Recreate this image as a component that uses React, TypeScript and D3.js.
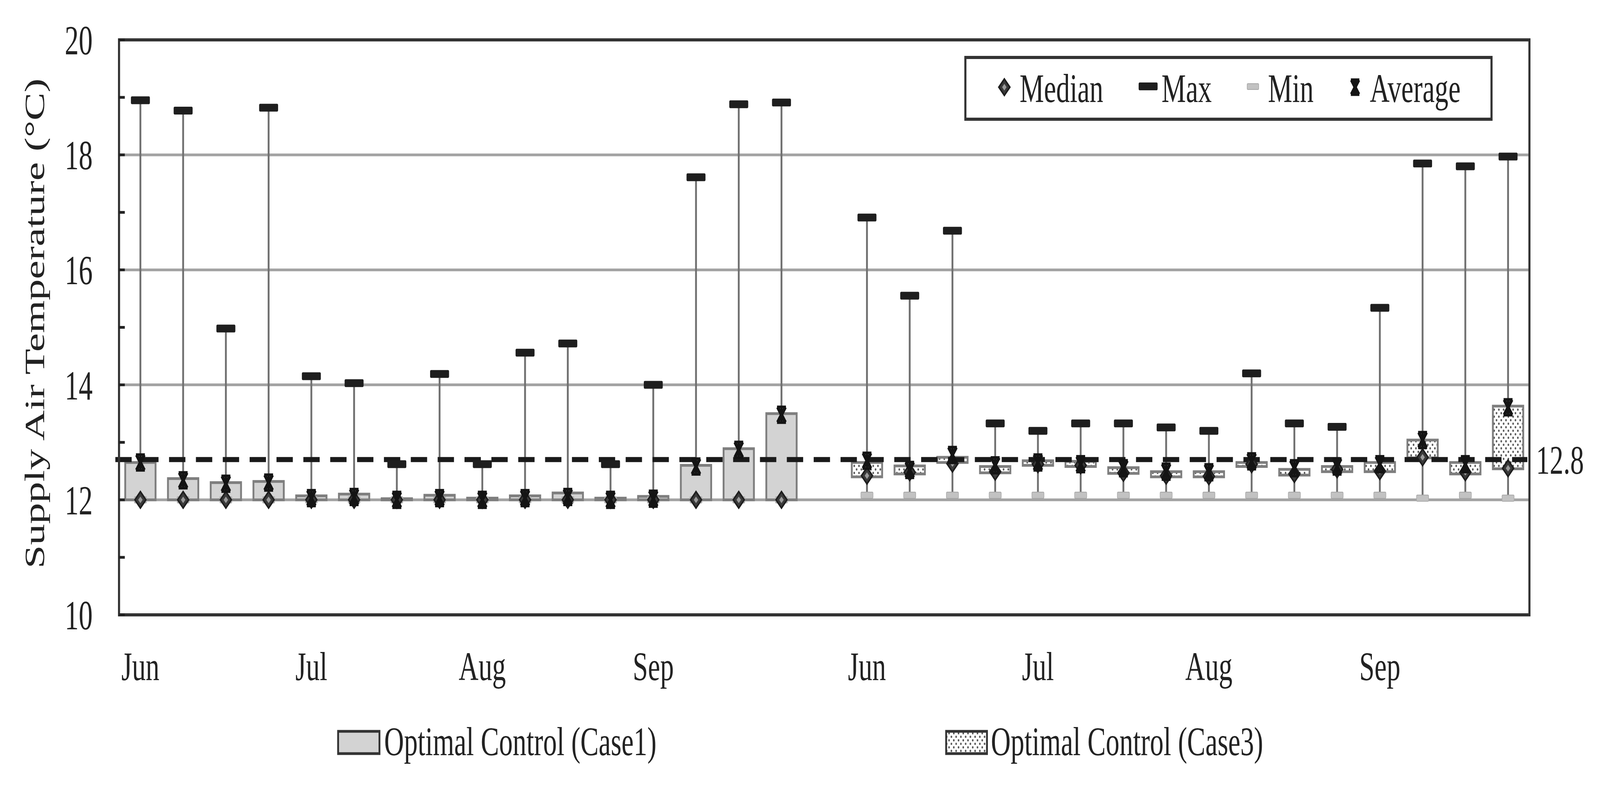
import React from 'react';
import * as d3 from 'd3';

// weekly supply air temperature stats, 4 weeks per month, Jun..Sep
const months = ['Jun', 'Jul', 'Aug', 'Sep'];
const weeksPerMonth = 4;

const case1Max = [18.95, 18.77, 14.98, 18.82, 14.15, 14.03, 12.62, 14.19, 12.62, 14.56, 14.72, 12.62, 14.0, 17.61, 18.88, 18.91];
const case1Avg = [12.65, 12.34, 12.28, 12.3, 12.03, 12.05, 12.0, 12.03, 12.0, 12.03, 12.05, 12.0, 12.02, 12.58, 12.87, 13.48];
const case1Median = [12.0, 12.0, 12.0, 12.0, 12.0, 12.0, 12.0, 12.0, 12.0, 12.0, 12.0, 12.0, 12.0, 12.0, 12.0, 12.0];
const case1Min = [12.0, 12.0, 12.0, 12.0, 12.0, 12.0, 12.0, 12.0, 12.0, 12.0, 12.0, 12.0, 12.0, 12.0, 12.0, 12.0];
const case1BoxLow = [12.0, 12.0, 12.0, 12.0, 12.0, 12.0, 12.0, 12.0, 12.0, 12.0, 12.0, 12.0, 12.0, 12.0, 12.0, 12.0];
const case1BoxHigh = [12.65, 12.37, 12.3, 12.32, 12.07, 12.1, 12.02, 12.08, 12.03, 12.07, 12.12, 12.03, 12.06, 12.6, 12.89, 13.5];

const case3Max = [16.91, 15.55, 16.68, 13.33, 13.2, 13.33, 13.33, 13.26, 13.2, 14.2, 13.33, 13.27, 15.34, 17.85, 17.8, 17.97];
const case3Avg = [12.68, 12.52, 12.78, 12.6, 12.65, 12.62, 12.55, 12.49, 12.48, 12.67, 12.55, 12.58, 12.62, 13.04, 12.62, 13.61];
const case3Median = [12.42, 12.48, 12.63, 12.49, 12.62, 12.6, 12.47, 12.42, 12.41, 12.62, 12.45, 12.53, 12.5, 12.74, 12.48, 12.55];
const case3Min = [12.08, 12.08, 12.08, 12.08, 12.08, 12.08, 12.08, 12.08, 12.08, 12.08, 12.08, 12.08, 12.08, 12.03, 12.08, 12.03];
const case3BoxLow = [12.4, 12.45, 12.65, 12.47, 12.6, 12.58, 12.46, 12.4, 12.4, 12.58, 12.43, 12.49, 12.49, 12.73, 12.45, 12.54];
const case3BoxHigh = [12.65, 12.59, 12.74, 12.58, 12.68, 12.67, 12.56, 12.49, 12.49, 12.65, 12.53, 12.58, 12.65, 13.04, 12.65, 13.63];

const setpoint = 12.7;
const setpointLabel = '12.8';
const yMajor = [10, 12, 14, 16, 18, 20];
const yGrid = [12, 14, 16, 18];

const FONT = "'Liberation Serif', 'Times New Roman', serif";

// excel-ish star marker: bold X with bars top and bottom
const Star = ({x, y, s = 20}: {x: number; y: number; s?: number}) => (
  <g transform={`translate(${x},${y})`} stroke="#141414" fill="none">
    <line x1={-s * 0.75} y1={-s} x2={s * 0.75} y2={s} strokeWidth={11} />
    <line x1={s * 0.75} y1={-s} x2={-s * 0.75} y2={s} strokeWidth={11} />
    <line x1={-s * 0.85} y1={-s} x2={s * 0.85} y2={-s} strokeWidth={7} />
    <line x1={-s * 0.85} y1={s} x2={s * 0.85} y2={s} strokeWidth={7} />
    <line x1={0} y1={-s} x2={0} y2={s} strokeWidth={9} />
  </g>
);

const Diamond = ({x, y, s = 21}: {x: number; y: number; s?: number}) => (
  <g>
    <path d={`M${x},${y - s}L${x + s},${y}L${x},${y + s}L${x - s},${y}Z`} fill="#3a3a3a" stroke="#1e1e1e" strokeWidth={5} />
    <path d={`M${x},${y - s * 0.4}L${x + s * 0.4},${y}L${x},${y + s * 0.4}L${x - s * 0.4},${y}Z`} fill="#9a9a9a" />
  </g>
);

const MaxMark = ({x, y}: {x: number; y: number}) => (
  <rect x={x - 36} y={y - 10} width={72} height={20} rx={4} fill="#1e1e1e" />
);

const MinMark = ({x, y}: {x: number; y: number}) => (
  <rect x={x - 23} y={y - 8} width={46} height={16} rx={3} fill="#c2c2c2" stroke="#a8a8a8" strokeWidth={2} />
);

export default function App() {
  const width = 6076;
  const height = 2016;
  const left = 452, right = 5808, top = 102, bottom = 1573;

  const c1Keys = case1Max.map((_, i) => `c1-${i}`);
  const c3Keys = case3Max.map((_, i) => `c3-${i}`);
  const categories = [...c1Keys, 'gap', ...c3Keys];

  const x = d3.scaleBand().domain(categories).range([left, right]).paddingInner(0).paddingOuter(0);
  const y = d3.scaleLinear().domain([10, 20]).range([bottom, top]);
  const cx = (k: string) => x(k)! + x.bandwidth() / 2;
  const boxW = x.bandwidth() * 0.71;

  const series = [
    {keys: c1Keys, max: case1Max, avg: case1Avg, med: case1Median, min: case1Min, lo: case1BoxLow, hi: case1BoxHigh, fill: '#d3d3d3'},
    {keys: c3Keys, max: case3Max, avg: case3Avg, med: case3Median, min: case3Min, lo: case3BoxLow, hi: case3BoxHigh, fill: 'url(#dots)'},
  ];

  const monthTicks = series.flatMap(s => months.map((m, i) => ({key: s.keys[i * weeksPerMonth], label: m})));
  const minorTicks = d3.range(10, 21);

  return (
    <svg viewBox={`0 0 ${width} ${height}`} preserveAspectRatio="none"
      style={{position: 'fixed', left: 0, top: 0, width: '100vw', height: '100vh', background: '#fff', display: 'block'}}
      fontFamily={FONT}>
      <defs>
        <pattern id="dots" width={18} height={18} patternUnits="userSpaceOnUse">
          <rect width={18} height={18} fill="#fff" />
          <circle cx={4} cy={4} r={3} fill="#555" />
          <circle cx={13} cy={13} r={3} fill="#555" />
        </pattern>
      </defs>
      <rect width={width} height={height} fill="#fff" />

      {/* gridlines */}
      {yGrid.map(v => (
        <line key={v} x1={left} x2={right} y1={y(v)} y2={y(v)} stroke="#a3a3a3" strokeWidth={7} />
      ))}

      {/* whiskers */}
      {series.map(s => s.keys.map((k, i) => (
        <line key={`w-${k}`} x1={cx(k)} x2={cx(k)} y1={y(s.min[i])} y2={y(s.max[i])} stroke="#707070" strokeWidth={7} />
      )))}

      {/* boxes */}
      {series.map(s => s.keys.map((k, i) => (
        <rect key={`b-${k}`} x={cx(k) - boxW / 2} y={y(s.hi[i])} width={boxW}
          height={Math.max(3, y(s.lo[i]) - y(s.hi[i]))} fill={s.fill} stroke="#7e7e7e" strokeWidth={7} />
      )))}

      {/* setpoint line */}
      <line x1={438} x2={5800} y1={y(setpoint)} y2={y(setpoint)} stroke="#1a1a1a" strokeWidth={13} strokeDasharray="62 40" />
      <text x={5833} y={y(setpoint)} dy="0.35em" fontSize={104} fill="#222">{setpointLabel}</text>

      {/* markers */}
      {series.map(s => s.keys.map((k, i) => (
        <g key={`m-${k}`}>
          <MinMark x={cx(k)} y={y(s.min[i])} />
          <MaxMark x={cx(k)} y={y(s.max[i])} />
          <Diamond x={cx(k)} y={y(s.med[i])} />
          <Star x={cx(k)} y={y(s.avg[i])} />
        </g>
      )))}

      {/* frame */}
      <rect x={left} y={top} width={right - left} height={bottom - top} fill="none" stroke="#333" strokeWidth={8} />
      {minorTicks.map(v => (
        <line key={`t-${v}`} x1={left} x2={left + 22} y1={y(v)} y2={y(v)} stroke="#222" strokeWidth={7} />
      ))}

      {/* y axis labels */}
      {yMajor.map(v => (
        <text key={`yl-${v}`} x={352} y={y(v)} dy="0.35em" textAnchor="end" fontSize={106} fill="#222">{v}</text>
      ))}
      <text transform={`translate(168,${(top + bottom) / 2 - 10}) rotate(-90)`} textAnchor="middle" fontSize={108} fill="#222">
        Supply Air Temperature (°C)
      </text>

      {/* month labels */}
      {monthTicks.map(t => (
        <text key={`mt-${t.key}`} x={cx(t.key)} y={1740} textAnchor="middle" fontSize={104} fill="#222">{t.label}</text>
      ))}

      {/* top legend */}
      <rect x={3666} y={147} width={1998} height={158} fill="#fff" stroke="#333" strokeWidth={8} />
      <Diamond x={3814} y={223} s={21} />
      <text x={3872} y={261} fontSize={104} fill="#222">Median</text>
      <rect x={4324} y={211} width={72} height={20} rx={4} fill="#1e1e1e" />
      <text x={4411} y={261} fontSize={104} fill="#222">Max</text>
      <rect x={4736} y={214} width={44} height={15} rx={3} fill="#c2c2c2" stroke="#a8a8a8" strokeWidth={2} />
      <text x={4815} y={261} fontSize={104} fill="#222">Min</text>
      <Star x={5146} y={223} s={19} />
      <text x={5202} y={261} fontSize={104} fill="#222">Average</text>

      {/* bottom legend */}
      <rect x={1284} y={1871} width={157} height={57} fill="#d3d3d3" stroke="#333" strokeWidth={7} />
      <text x={1459} y={1932} fontSize={104} fill="#222">Optimal Control (Case1)</text>
      <rect x={3593} y={1871} width={155} height={57} fill="url(#dots)" stroke="#333" strokeWidth={7} />
      <text x={3763} y={1932} fontSize={104} fill="#222">Optimal Control (Case3)</text>
    </svg>
  );
}
